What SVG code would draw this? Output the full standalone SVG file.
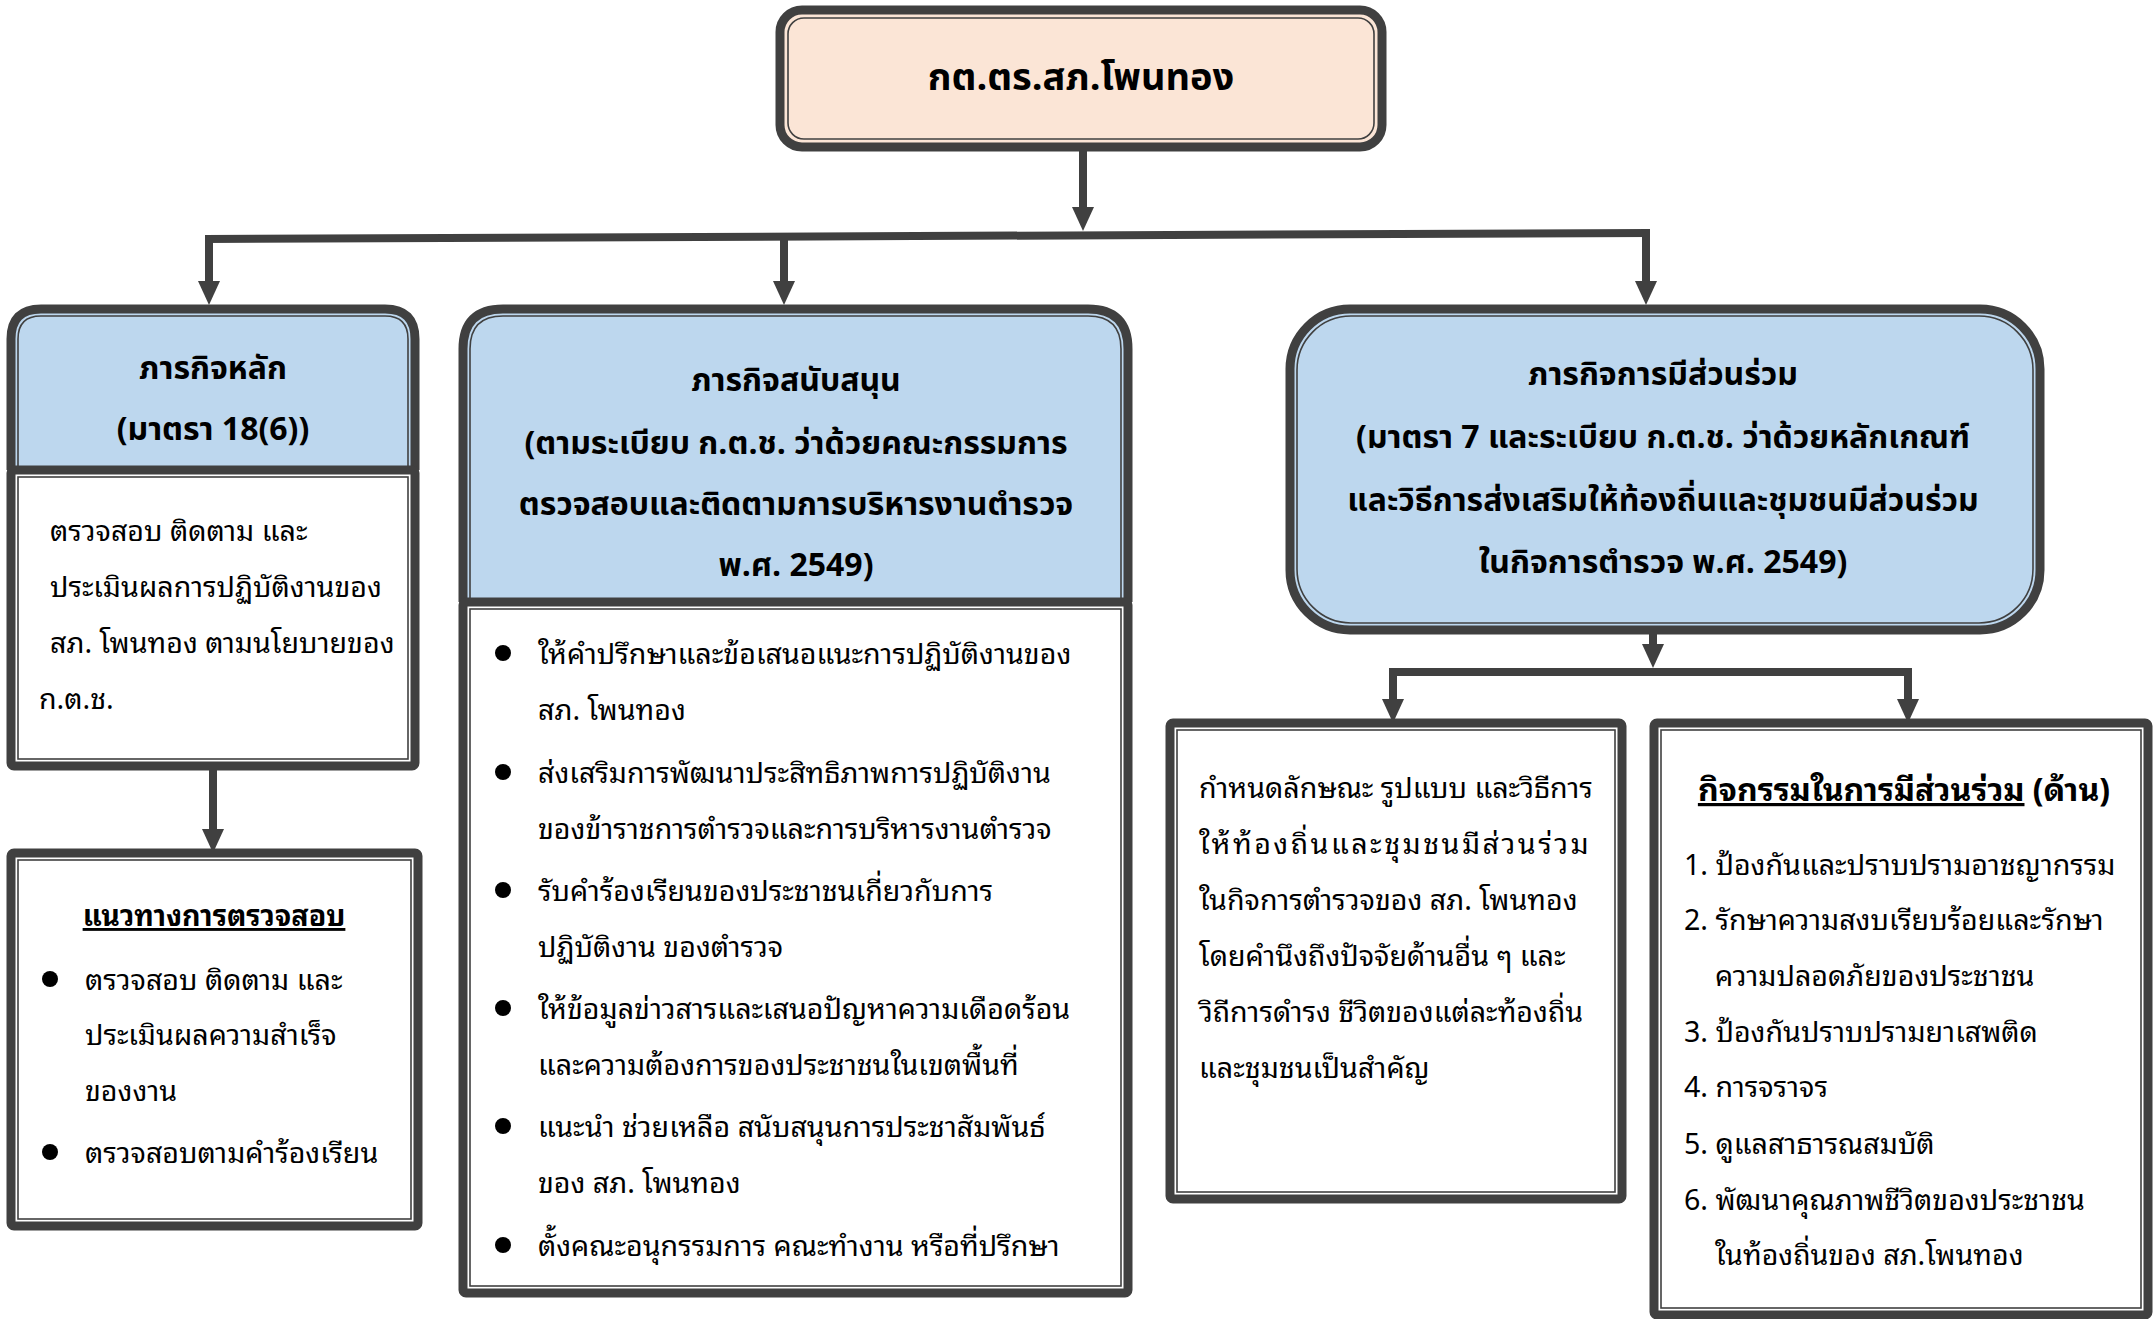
<svg xmlns="http://www.w3.org/2000/svg" width="2156" height="1319" viewBox="0 0 2156 1319">
<style>
.outer{stroke:#404040;stroke-width:9;}
.inner{fill:none;stroke:#404040;stroke-width:1.6;}
.blue{fill:#BDD7EE;}
.white{fill:#FFFFFF;}
.peach{fill:#FBE5D6;}
.conn{fill:none;stroke:#404040;stroke-width:8;}
.h{font-family:"Noto Sans Thai","Noto Sans","DejaVu Sans",sans-serif;font-weight:bold;font-size:32px;text-anchor:middle;fill:#000;}
.t{font-family:"Noto Sans Thai Looped","Loma","Garuda","Noto Sans Thai","Noto Sans","DejaVu Sans",sans-serif;font-size:28.6px;fill:#000;}
.dot{fill:#000;}
</style>
<defs>
<marker id="arr" viewBox="0 0 24 22" markerWidth="24" markerHeight="22" refX="4" refY="11" orient="auto" markerUnits="userSpaceOnUse">
<path d="M0,0 L24,11 L0,22 z" fill="#404040"/>
</marker>
</defs>
<rect width="2156" height="1319" fill="#FFFFFF"/>

<g id="connectors">
<path class="conn" d="M1083,150 V211" marker-end="url(#arr)"/>
<path class="conn" d="M205,239 L1650,233"/>
<path class="conn" d="M209,239 V285" marker-end="url(#arr)"/>
<path class="conn" d="M784,237 V285" marker-end="url(#arr)"/>
<path class="conn" d="M1646,233 V285" marker-end="url(#arr)"/>
<path class="conn" d="M213,770 V833" marker-end="url(#arr)"/>
<path class="conn" d="M1653,632 V648" marker-end="url(#arr)"/>
<path class="conn" d="M1389,672 H1912"/>
<path class="conn" d="M1393,672 V703" marker-end="url(#arr)"/>
<path class="conn" d="M1908,672 V703" marker-end="url(#arr)"/>
</g>

<g id="node-top">
<rect class="outer peach" x="780" y="10" width="602" height="137" rx="22"/>
<rect class="inner" x="788" y="18" width="586" height="121" rx="16"/>
<text class="h" x="1081" y="90" style="font-size:38px">กต.ตร.สภ.โพนทอง</text>
</g>

<g id="node-main">
<path class="outer blue" d="M11,470 V339 Q11,309 41,309 H385 Q415,309 415,339 V470"/>
<path class="inner" d="M18,470 V339 Q18,316 41,316 H385 Q408,316 408,339 V470"/>
<text class="h" x="213" y="379">ภารกิจหลัก</text>
<text class="h" x="213" y="440">(มาตรา 18(6))</text>
</g>
<g id="node-main-body">
<rect class="outer white" x="11" y="470" width="404" height="296" rx="3"/>
<rect class="inner" x="18" y="477" width="390" height="282"/>
<text class="t" x="50" y="541">ตรวจสอบ ติดตาม และ</text>
<text class="t" x="50" y="597">ประเมินผลการปฏิบัติงานของ</text>
<text class="t" x="50" y="653">สภ. โพนทอง ตามนโยบายของ</text>
<text class="t" x="39" y="709">ก.ต.ช.</text>
</g>

<g id="node-guideline">
<rect class="outer white" x="11" y="853" width="407" height="373" rx="3"/>
<rect class="inner" x="18" y="860" width="393" height="359"/>
<text class="t" x="214" y="926" style="text-anchor:middle;font-weight:bold;text-decoration:underline">แนวทางการตรวจสอบ</text>
<circle class="dot" cx="50" cy="979" r="8"/>
<text class="t" x="85" y="990">ตรวจสอบ ติดตาม และ</text>
<text class="t" x="85" y="1045">ประเมินผลความสำเร็จ</text>
<text class="t" x="85" y="1101">ของงาน</text>
<circle class="dot" cx="50" cy="1152" r="8"/>
<text class="t" x="85" y="1163">ตรวจสอบตามคำร้องเรียน</text>
</g>

<g id="node-support">
<path class="outer blue" d="M463,602 V349 Q463,309 503,309 H1088 Q1128,309 1128,349 V602"/>
<path class="inner" d="M470,602 V349 Q470,316 503,316 H1088 Q1121,316 1121,349 V602"/>
<text class="h" x="796" y="391">ภารกิจสนับสนุน</text>
<text class="h" x="796" y="454">(ตามระเบียบ ก.ต.ช. ว่าด้วยคณะกรรมการ</text>
<text class="h" x="796" y="515">ตรวจสอบและติดตามการบริหารงานตำรวจ</text>
<text class="h" x="796" y="576">พ.ศ. 2549)</text>
</g>
<g id="node-support-body">
<rect class="outer white" x="463" y="602" width="665" height="691" rx="3"/>
<rect class="inner" x="470" y="609" width="651" height="677"/>
<circle class="dot" cx="503" cy="653" r="8"/>
<text class="t" x="538" y="664">ให้คำปรึกษาและข้อเสนอแนะการปฏิบัติงานของ</text>
<text class="t" x="538" y="720">สภ. โพนทอง</text>
<circle class="dot" cx="503" cy="772" r="8"/>
<text class="t" x="538" y="783">ส่งเสริมการพัฒนาประสิทธิภาพการปฏิบัติงาน</text>
<text class="t" x="538" y="839">ของข้าราชการตำรวจและการบริหารงานตำรวจ</text>
<circle class="dot" cx="503" cy="890" r="8"/>
<text class="t" x="538" y="901">รับคำร้องเรียนของประชาชนเกี่ยวกับการ</text>
<text class="t" x="538" y="957">ปฏิบัติงาน ของตำรวจ</text>
<circle class="dot" cx="503" cy="1008" r="8"/>
<text class="t" x="538" y="1019">ให้ข้อมูลข่าวสารและเสนอปัญหาความเดือดร้อน</text>
<text class="t" x="538" y="1075">และความต้องการของประชาชนในเขตพื้นที่</text>
<circle class="dot" cx="503" cy="1126" r="8"/>
<text class="t" x="538" y="1137">แนะนำ ช่วยเหลือ สนับสนุนการประชาสัมพันธ์</text>
<text class="t" x="538" y="1193">ของ สภ. โพนทอง</text>
<circle class="dot" cx="503" cy="1245" r="8"/>
<text class="t" x="538" y="1256">ตั้งคณะอนุกรรมการ คณะทำงาน หรือที่ปรึกษา</text>
</g>

<g id="node-participation">
<rect class="outer blue" x="1290" y="309" width="750" height="321" rx="60"/>
<rect class="inner" x="1297" y="316" width="736" height="307" rx="54"/>
<text class="h" x="1663" y="385">ภารกิจการมีส่วนร่วม</text>
<text class="h" x="1663" y="448">(มาตรา 7 และระเบียบ ก.ต.ช. ว่าด้วยหลักเกณฑ์</text>
<text class="h" x="1663" y="511">และวิธีการส่งเสริมให้ท้องถิ่นและชุมชนมีส่วนร่วม</text>
<text class="h" x="1663" y="573">ในกิจการตำรวจ พ.ศ. 2549)</text>
</g>

<g id="node-define">
<rect class="outer white" x="1170" y="723" width="452" height="476" rx="3"/>
<rect class="inner" x="1177" y="730" width="438" height="462"/>
<text class="t" x="1199" y="798">กำหนดลักษณะ รูปแบบ และวิธีการ</text>
<text class="t" x="1199" y="854" style="letter-spacing:2.5px">ให้ท้องถิ่นและชุมชนมีส่วนร่วม</text>
<text class="t" x="1199" y="910">ในกิจการตำรวจของ สภ. โพนทอง</text>
<text class="t" x="1199" y="966">โดยคำนึงถึงปัจจัยด้านอื่น ๆ และ</text>
<text class="t" x="1199" y="1022">วิถีการดำรง ชีวิตของแต่ละท้องถิ่น</text>
<text class="t" x="1199" y="1078">และชุมชนเป็นสำคัญ</text>
</g>

<g id="node-activities">
<rect class="outer white" x="1654" y="723" width="494" height="592" rx="3"/>
<rect class="inner" x="1661" y="730" width="480" height="578"/>
<text class="t" x="1904" y="801" style="text-anchor:middle;font-weight:bold;font-size:32px"><tspan style="text-decoration:underline">กิจกรรมในการมีส่วนร่วม</tspan> (ด้าน)</text>
<text class="t" x="1684" y="875">1. ป้องกันและปราบปรามอาชญากรรม</text>
<text class="t" x="1684" y="930">2. รักษาความสงบเรียบร้อยและรักษา</text>
<text class="t" x="1715" y="986">ความปลอดภัยของประชาชน</text>
<text class="t" x="1684" y="1042">3. ป้องกันปราบปรามยาเสพติด</text>
<text class="t" x="1684" y="1097">4. การจราจร</text>
<text class="t" x="1684" y="1154">5. ดูแลสาธารณสมบัติ</text>
<text class="t" x="1684" y="1210">6. พัฒนาคุณภาพชีวิตของประชาชน</text>
<text class="t" x="1715" y="1265">ในท้องถิ่นของ สภ.โพนทอง</text>
</g>
</svg>
